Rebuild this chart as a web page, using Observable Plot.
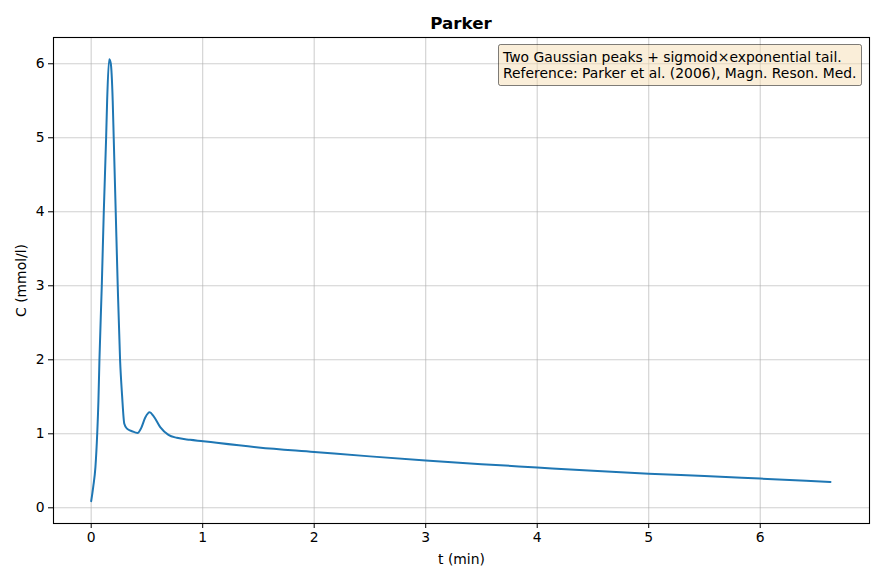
<!DOCTYPE html>
<html>
<head>
<meta charset="utf-8">
<script src="https://cdn.jsdelivr.net/npm/d3@7"></script>
<script src="https://cdn.jsdelivr.net/npm/@observablehq/plot@0.6"></script>
<style>
  html, body { margin: 0; padding: 0; background: white; }
  #wrap { width: 884px; font-family: "DejaVu Sans", sans-serif; }
  #title { height: 36px; box-sizing: border-box; padding-top: 15px; padding-left: 38px;
           font-size: 16.7px; line-height: 1; font-weight: bold; text-align: center; color: #000; }
</style>
</head>
<body>
<div id="wrap">
  <div id="title">Parker</div>
  <div id="chart"></div>
</div>
<script>
// Time points (min)
const tMin = [0, 0.018, 0.038, 0.054, 0.065, 0.074, 0.095, 0.113, 0.134, 0.143, 0.161, 0.175, 0.193, 0.202,
  0.220, 0.238, 0.259, 0.277, 0.297, 0.321, 0.366, 0.416, 0.446, 0.485, 0.524, 0.559, 0.619, 0.693,
  0.768, 0.887, 1.005, 1.125, 1.5, 2, 2.5, 3, 3.5, 4, 4.5, 5, 5.5, 6, 6.63];
// Concentration (mmol/l)
const conc = [0.09, 0.28, 0.55, 1.0, 1.45, 2.0, 3.0, 4.0, 5.0, 5.5, 6.06, 6.01, 5.5, 5.0,
  4.0, 3.0, 2.0, 1.52, 1.135, 1.07, 1.035, 1.01, 1.07, 1.22, 1.29, 1.24, 1.09, 0.986,
  0.946, 0.919, 0.90, 0.878, 0.815, 0.755, 0.695, 0.64, 0.59, 0.545, 0.50, 0.46, 0.43, 0.395, 0.35];
const xTicks = [0, 1, 2, 3, 4, 5, 6];
const yTicks = [0, 1, 2, 3, 4, 5, 6];
const legendLines = ["Two Gaussian peaks + sigmoid\u00d7exponential tail.",
                     "Reference: Parker et al. (2006), Magn. Reson. Med."];

const data = tMin.map((t, i) => ({t, c: conc[i]}));

const chart = Plot.plot({
  width: 884,
  height: 545,
  marginLeft: 53,
  marginRight: 15,
  marginTop: 1,
  marginBottom: 58,
  style: {fontFamily: "DejaVu Sans", fontSize: "13.9px", color: "#000", background: "white", overflow: "visible"},
  x: {domain: [-0.338, 6.98]},
  y: {domain: [-0.212, 6.355]},
  marks: [
    Plot.gridX(xTicks, {stroke: "#b0b0b0", strokeOpacity: 0.6, strokeWidth: 1.1}),
    Plot.gridY(yTicks, {stroke: "#b0b0b0", strokeOpacity: 0.6, strokeWidth: 1.1}),
    Plot.line(data, {x: "t", y: "c", stroke: "#1f77b4", strokeWidth: 2, curve: "monotone-x"}),
    Plot.frame({stroke: "#000", strokeWidth: 1.1}),
    Plot.axisX(xTicks, {tickSize: 5, tickPadding: 4, tickFormat: d => String(d), label: "t (min)", labelAnchor: "center", labelArrow: "none", labelOffset: 40, fontSize: 13.9}),
    Plot.axisY(yTicks, {tickSize: 5, tickPadding: 4, tickFormat: d => String(d), label: "C (mmol/l)", labelAnchor: "center", labelArrow: "none", labelOffset: 37, fontSize: 13.9})
  ]
});
document.getElementById("chart").appendChild(chart);

// Annotation box (upper right)
const svg = d3.select(chart);
const g = svg.append("g").attr("text-anchor", "start");
g.append("rect")
  .attr("x", 498.5).attr("y", 8.5).attr("width", 363).attr("height", 41)
  .attr("rx", 2)
  .attr("fill", "#f5deb3").attr("fill-opacity", 0.5)
  .attr("stroke", "#000").attr("stroke-opacity", 0.5).attr("stroke-width", 1);
legendLines.forEach((s, i) => {
  g.append("text")
    .attr("x", 503).attr("y", 26.3 + i * 15.5)
    .attr("text-anchor", "start")
    .attr("font-family", "DejaVu Sans").attr("font-size", 13.9).attr("fill", "#000")
    .text(s);
});
</script>
</body>
</html>
